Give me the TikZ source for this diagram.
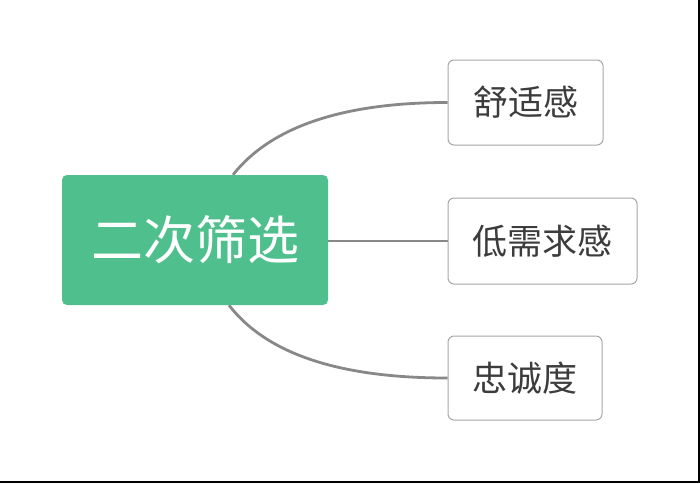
\documentclass[tikz,border=0pt]{standalone}
\usepackage{fontspec}
\usetikzlibrary{backgrounds}
\newfontfamily\cjk{Noto Sans CJK SC}
\definecolor{rootgreen}{HTML}{4FC08D}
\definecolor{edgegray}{HTML}{888888}
\definecolor{boxgray}{HTML}{A6A6A6}
\definecolor{txtgray}{HTML}{3C3C3C}
\tikzset{
  rootbox/.style={fill=rootgreen, rounded corners=5pt, inner sep=0pt, text=white,
    font=\cjk\fontsize{52pt}{52pt}\selectfont},
  leafbox/.style={draw=boxgray, line width=1pt, fill=white, rounded corners=6pt, inner sep=0pt,
    text=txtgray, font=\cjk\fontsize{35pt}{35pt}\selectfont},
  link/.style={draw=edgegray, line width=2.8pt}
}
\begin{document}
\begin{tikzpicture}[x=1pt,y=-1pt]
\useasboundingbox (0,0) rectangle (700,483);
\node[rootbox, minimum width=266pt, minimum height=130pt] (root) at (195,240) {二次筛选};
\node[leafbox, minimum width=155pt, minimum height=85pt] (a) at (525.5,102.5) {舒适感};
\node[leafbox, minimum width=189pt, minimum height=86pt] (b) at (542.5,241) {低需求感};
\node[leafbox, minimum width=154pt, minimum height=84pt] (c) at (525,378) {忠诚度};
\begin{scope}[on background layer]
\draw[link] ([xshift=38pt]root.north) .. controls +(38,-48) and +(-105,0) .. (a.west);
\draw[link] (root.east |- b.west) -- (b.west);
\draw[link] ([xshift=34pt]root.south) .. controls +(38,49) and +(-108,0) .. (c.west);
\end{scope}
% frame edges at right and bottom
\draw[black, line width=2pt] (0,481.5) -- (698.5,481.5) -- (698.5,0);
\end{tikzpicture}
\end{document}
